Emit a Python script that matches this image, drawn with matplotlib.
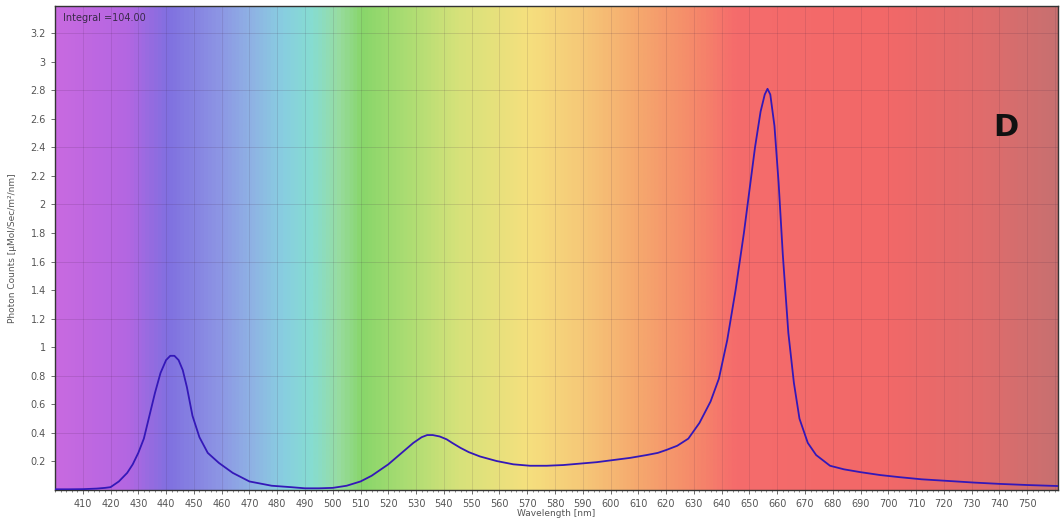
import numpy as np
import matplotlib
matplotlib.use('Agg')
from matplotlib import pyplot as plt
from matplotlib.colors import LinearSegmentedColormap
from matplotlib.ticker import MultipleLocator, FuncFormatter

# spectrum
wavelength = [400, 405, 410, 415, 418, 420, 423, 426, 428, 430, 432, 434, 436, 438, 440,
              441.5, 443, 444.5, 446, 447.5, 449.5, 452, 455, 459, 464, 470, 478, 485, 490,
              495, 500, 505, 510, 514, 517, 520, 523, 526, 529, 532, 534, 536, 538.5,
              541, 543, 546, 549, 553, 559, 565, 571, 577, 583, 589, 595, 601, 607,
              613, 617, 620, 624, 628, 632, 636, 639, 642, 645, 648, 650, 652, 654,
              655.5, 656.5, 657.5, 659, 660.5, 662, 664, 666, 668, 671, 674, 679,
              684, 690, 697, 704, 712, 722, 731, 740, 750, 761]
photons = [0.005, 0.005, 0.006, 0.01, 0.015, 0.02, 0.06, 0.12, 0.18, 0.26, 0.36, 0.52, 0.68, 0.82, 0.91,
           0.94, 0.94, 0.91, 0.84, 0.72, 0.52, 0.37, 0.26, 0.19, 0.12, 0.06, 0.03, 0.02, 0.012,
           0.012, 0.015, 0.03, 0.06, 0.1, 0.14, 0.18, 0.23, 0.28, 0.33, 0.37, 0.385, 0.385, 0.375,
           0.355, 0.33, 0.295, 0.265, 0.235, 0.203, 0.18, 0.17, 0.17, 0.175, 0.185, 0.195, 0.21, 0.225,
           0.245, 0.26, 0.28, 0.31, 0.36, 0.47, 0.62, 0.78, 1.05, 1.4, 1.8, 2.1, 2.4, 2.65,
           2.77, 2.81, 2.77, 2.55, 2.15, 1.65, 1.1, 0.75, 0.5, 0.33, 0.245, 0.17,
           0.145, 0.125, 0.105, 0.09, 0.075, 0.063, 0.052, 0.043, 0.035, 0.028]

# background spectrum colours (nm, rgb)
bg_nm = [400, 425, 440, 458, 470, 482, 492, 502, 510, 525, 545, 570, 590, 610, 630, 645, 700, 735, 761]
bg_rgb = ['#c86ae0', '#b466e2', '#8070e0', '#8c94e4', '#8fb2e4', '#88cfe0', '#86dcd2', '#98dca0',
          '#88d66a', '#a8dc72', '#d6e27a', '#f5e07e', '#f6c878', '#f5a86e', '#f58a6a', '#f56c6c',
          '#f26868', '#e06c6c', '#c87070']

xmin, xmax = 400, 761
ymin, ymax = 0, 3.39

fig = plt.figure(figsize=(10.61, 5.26), dpi=100)
ax = fig.add_axes([0.0518, 0.0684, 0.9452, 0.9202])

pos = [(v - xmin) / (xmax - xmin) for v in bg_nm]
cmap = LinearSegmentedColormap.from_list('spec', list(zip(pos, bg_rgb)))
grad = np.linspace(0, 1, 800).reshape(1, -1)
ax.imshow(grad, cmap=cmap, aspect='auto', extent=[xmin, xmax, ymin, ymax], zorder=0)

for x in range(410, 761, 10):
    ax.axvline(x, color='#402040', lw=0.7, alpha=0.12, zorder=1)
for y in np.arange(0.4, 3.3, 0.4):
    ax.axhline(y, color='#402040', lw=0.7, alpha=0.14, zorder=1)

ax.plot(wavelength, photons, color='#3418b8', lw=1.3, zorder=3)

ax.set_xlim(xmin, xmax)
ax.set_ylim(ymin, ymax)
ax.set_xticks(range(410, 751, 10))
ax.xaxis.set_minor_locator(MultipleLocator(2))
ax.set_yticks(np.round(np.arange(0.2, 3.21, 0.2), 1))
ax.yaxis.set_major_formatter(FuncFormatter(lambda v, p: '%g' % v))
ax.tick_params(axis='both', labelsize=7, colors='#555555', length=3, width=0.6)
ax.tick_params(axis='x', which='minor', length=1.5, width=0.5, colors='#555555')
for s in ax.spines.values():
    s.set_color('#333333')
    s.set_linewidth(1.0)

ax.set_xlabel('Wavelength [nm]', fontsize=6.5, color='#555555', labelpad=0)
ax.set_ylabel('Photon Counts [µMol/Sec/m²/nm]', fontsize=6.5, color='#555555', labelpad=10)

ax.text(0.008, 0.985, 'Integral =104.00', transform=ax.transAxes, fontsize=7,
        color='#3a2a4a', va='top', ha='left')
ax.text(0.948, 0.75, 'D', transform=ax.transAxes, fontsize=22, fontweight='bold',
        color='#111111', ha='center', va='center')

fig.savefig('out.png', dpi=100)
